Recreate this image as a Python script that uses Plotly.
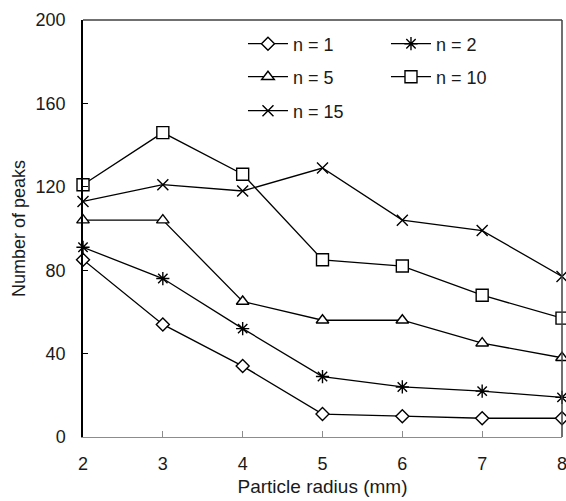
import plotly.graph_objects as go

radius = [2, 3, 4, 5, 6, 7, 8]
peaks_n1 = [85, 54, 34, 11, 10, 9, 9]
peaks_n2 = [91, 76, 52, 29, 24, 22, 19]
peaks_n5 = [104, 104, 65, 56, 56, 45, 38]
peaks_n10 = [121, 146, 126, 85, 82, 68, 57]
peaks_n15 = [113, 121, 118, 129, 104, 99, 77]

series = [
    ("n = 1", peaks_n1, "diamond", 10, "white", "legend"),
    ("n = 2", peaks_n2, "asterisk", 11, "black", "legend"),
    ("n = 5", peaks_n5, "triangle-up", 11, "white", "legend2"),
    ("n = 10", peaks_n10, "square", 12, "white", "legend2"),
    ("n = 15", peaks_n15, "x-thin", 11, "black", "legend3"),
]

FONT = "Liberation Sans, Arial, sans-serif"
TEXT = "#1a1a1a"

fig = go.Figure()
for name, vals, sym, size, fill, leg in series:
    fig.add_trace(go.Scatter(
        x=radius, y=vals, name=name, mode="lines+markers",
        line=dict(color="black", width=1.3),
        marker=dict(symbol=sym, size=size, color=fill,
                    line=dict(color="black", width=1.4)),
        legend=leg, cliponaxis=False,
    ))

legend_common = dict(
    orientation="h", xanchor="left", yanchor="middle",
    bgcolor="rgba(0,0,0,0)", borderwidth=0,
    font=dict(family=FONT, size=18, color=TEXT),
    itemwidth=40, entrywidth=88, traceorder="normal",
)

fig.update_layout(
    width=566, height=501,
    margin=dict(l=83, r=4, t=20, b=64),
    paper_bgcolor="white", plot_bgcolor="white",
    font=dict(family=FONT, size=18, color=TEXT),
    showlegend=True,
    legend=dict(x=0.334, y=0.9424, **legend_common),
    legend2=dict(x=0.334, y=0.8633, **legend_common),
    legend3=dict(x=0.334, y=0.7818, **legend_common),
    xaxis=dict(
        range=[2, 8], tickvals=radius, showgrid=False, zeroline=False,
        showline=True, linecolor="#8c8c8c", linewidth=1.3,
        ticks="inside", ticklen=6, tickcolor="#8c8c8c",
        tickfont=dict(size=18), ticklabelstandoff=10,
        ticklabeloverflow="allow", automargin=False,
        title=dict(text="Particle radius (mm)", font=dict(size=19), standoff=6),
    ),
    yaxis=dict(
        range=[0, 200], tickvals=[0, 40, 80, 120, 160, 200], showgrid=False,
        zeroline=False, showline=True, linecolor="black", linewidth=1.5,
        ticks="inside", ticklen=5, tickcolor="black",
        tickfont=dict(size=18), ticklabelstandoff=12,
        ticklabeloverflow="allow", automargin=False,
        title=dict(text="Number of peaks", font=dict(size=18), standoff=5),
    ),
    shapes=[
        dict(type="line", xref="paper", yref="paper", x0=0, x1=1, y0=1, y1=1,
             line=dict(color="#404040", width=1.5)),
        dict(type="line", xref="paper", yref="paper", x0=1, x1=1, y0=0, y1=1,
             line=dict(color="#404040", width=1.5)),
    ],
)

fig.write_html("out.html")
